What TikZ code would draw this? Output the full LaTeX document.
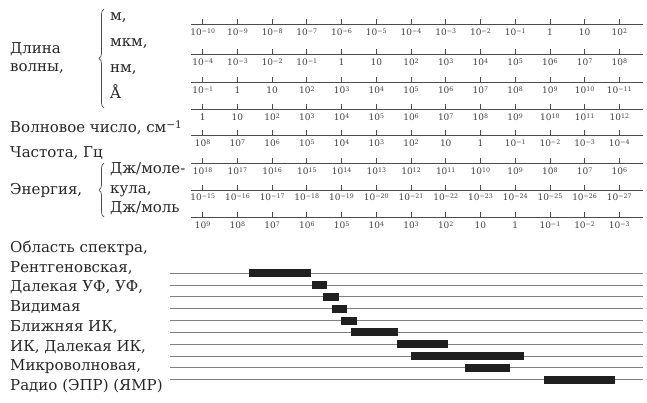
\documentclass[tikz,border=0pt]{standalone}
\usepackage{fontspec}
\setmainfont{DejaVu Serif}
\usetikzlibrary{decorations.pathreplacing}
\newcommand\pw[1]{10\raisebox{0.5ex}{\fontsize{6.3}{7}\selectfont #1}}
\newcommand\supp[1]{\raisebox{0.55ex}{\fontsize{10.5}{11}\selectfont #1}}
\tikzset{
  scaleline/.style={draw=black!70, line width=0.9pt},
  tickmark/.style={draw=black!70, line width=0.8pt},
  ticklab/.style={anchor=base, font=\fontsize{9}{10}\selectfont, text=black!75, inner sep=0pt},
  lab/.style={anchor=base west, font=\fontsize{15}{17}\selectfont, text=black!85, inner sep=0pt},
  bandline/.style={draw=black!50, line width=1pt},
  band/.style={fill=black!88, draw=none},
  bracebrace/.style={draw=black!70, line width=0.7pt, decorate, decoration={brace, amplitude=5pt}}
}
\begin{document}
\begin{tikzpicture}[x=1pt,y=-1pt]
\useasboundingbox (0,0) rectangle (647,403);
% scale lines
\foreach \yy [count=\r] in {24,54,82,109,135,163,190,217}{
  \draw[scaleline] (191,\yy) -- (643,\yy);
  \foreach \i in {0,...,12}{
    \draw[tickmark] ({202.7+34.72*\i},\yy) -- ({202.7+34.72*\i},\yy-4.5);
  }
}
% labels
\foreach \t [count=\i from 0] in {\pw{−10},\pw{−9},\pw{−8},\pw{−7},\pw{−6},\pw{−5},\pw{−4},\pw{−3},\pw{−2},\pw{−1},1,10,\pw{2}}
  \node[ticklab] (a\i) at ({202.7+34.72*\i},36) {\t};
\foreach \t [count=\i from 0] in {\pw{−4},\pw{−3},\pw{−2},\pw{−1},1,10,\pw{2},\pw{3},\pw{4},\pw{5},\pw{6},\pw{7},\pw{8}}
  \node[ticklab] (b\i) at ({202.7+34.72*\i},66) {\t};
\foreach \t [count=\i from 0] in {\pw{−1},1,10,\pw{2},\pw{3},\pw{4},\pw{5},\pw{6},\pw{7},\pw{8},\pw{9},\pw{10},\pw{−11}}
  \node[ticklab] (c\i) at ({202.7+34.72*\i},94) {\t};
\foreach \t [count=\i from 0] in {1,10,\pw{2},\pw{3},\pw{4},\pw{5},\pw{6},\pw{7},\pw{8},\pw{9},\pw{10},\pw{11},\pw{12}}
  \node[ticklab] (d\i) at ({202.7+34.72*\i},121) {\t};
\foreach \t [count=\i from 0] in {\pw{8},\pw{7},\pw{6},\pw{5},\pw{4},\pw{3},\pw{2},10,1,\pw{−1},\pw{−2},\pw{−3},\pw{−4}}
  \node[ticklab] (e\i) at ({202.7+34.72*\i},147) {\t};
\foreach \t [count=\i from 0] in {\pw{18},\pw{17},\pw{16},\pw{15},\pw{14},\pw{13},\pw{12},\pw{11},\pw{10},\pw{9},\pw{8},\pw{7},\pw{6}}
  \node[ticklab] (f\i) at ({202.7+34.72*\i},175) {\t};
\foreach \t [count=\i from 0] in {\pw{−15},\pw{−16},\pw{−17},\pw{−18},\pw{−19},\pw{−20},\pw{−21},\pw{−22},\pw{−23},\pw{−24},\pw{−25},\pw{−26},\pw{−27}}
  \node[ticklab] (g\i) at ({202.7+34.72*\i},201) {\t};
\foreach \t [count=\i from 0] in {\pw{9},\pw{8},\pw{7},\pw{6},\pw{5},\pw{4},\pw{3},\pw{2},10,1,\pw{−1},\pw{−2},\pw{−3}}
  \node[ticklab] (h\i) at ({202.7+34.72*\i},229) {\t};
% left labels
\node[lab] (dl1) at (10,54) {Длина};
\node[lab] (dl2) at (10,72) {волны,};
\draw[bracebrace] (104,108) -- (104,9);
\node[lab] (u1) at (110,21) {м,};
\node[lab] (u2) at (110,47) {мкм,};
\node[lab] (u3) at (110,73) {нм,};
\node[lab] (u4) at (110,99) {Å};
\node[lab] (wn) at (10,133) {Волновое число, см\supp{−1}};
\node[lab] (fr) at (10,158) {Частота, Гц};
\node[lab] (en) at (10,195) {Энергия,};
\draw[bracebrace] (104,217) -- (104,163);
\node[lab] (e1) at (110,174) {Дж/моле-};
\node[lab] (e2) at (110,194) {кула,};
\node[lab] (e3) at (110,213) {Дж/моль};
% spectrum
\node[lab] (s0) at (10,252.5) {Область спектра,};
\foreach \t [count=\i from 1] in {{Рентгеновская,},{Далекая УФ, УФ,},{Видимая},{Ближняя ИК,},{ИК, Далекая ИК,},{Микроволновая,},{Радио (ЭПР) (ЯМР)}}
  \node[lab] (s\i) at (10,{252.5+19.7*\i}) {\t};
\foreach \i in {0,...,9}
  \draw[bandline] (170,{273.3+11.82*\i}) -- (643,{273.3+11.82*\i});
\foreach \xa/\xb/\yy in {249/310.7/273.3, 311.7/327.3/285.1, 323.3/339.3/296.9, 332/346.7/308.8, 340.7/357.3/320.6, 351/397.7/332.4, 397/448.3/344.2, 410.7/524/356.1, 465/510.3/367.9, 543.7/614.7/379.7}
  \fill[band] (\xa,\yy-4) rectangle (\xb,\yy+4);
\end{tikzpicture}
\end{document}
